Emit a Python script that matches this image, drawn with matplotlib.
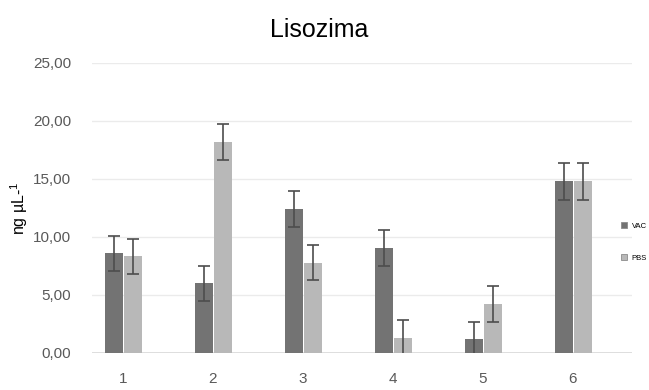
import matplotlib
matplotlib.use("Agg")
import matplotlib.pyplot as plt
import numpy as np

plt.rcParams['font.family'] = ['Liberation Sans', 'DejaVu Sans']
plt.rcParams['mathtext.fontset'] = 'custom'
plt.rcParams['mathtext.rm'] = 'Liberation Sans'
plt.rcParams['mathtext.default'] = 'rm'

categories = ["1", "2", "3", "4", "5", "6"]
vac = [8.6, 6.0, 12.4, 9.05, 1.2, 14.8]
vac_err = [1.5, 1.5, 1.55, 1.55, 1.5, 1.6]
pbs = [8.35, 18.2, 7.8, 1.3, 4.2, 14.8]
pbs_err = [1.5, 1.55, 1.5, 1.55, 1.55, 1.6]
yticks = [0, 5, 10, 15, 20, 25]
ytick_labels = ["0,00", "5,00", "10,00", "15,00", "20,00", "25,00"]

fig = plt.figure(figsize=(6.49, 3.90), dpi=100)
ax = fig.add_axes([0.1418, 0.0949, 0.832, 0.7436])

x = np.arange(1, len(categories) + 1)
w = 0.2
ax.bar(x - 0.105, vac, width=w, color="#737373", label="VAC", zorder=3,
       yerr=vac_err, capsize=4, error_kw=dict(ecolor="#4d4d4d", elinewidth=1.2, capthick=1.2))
ax.bar(x + 0.11, pbs, width=w, color="#b8b8b8", label="PBS", zorder=3,
       yerr=pbs_err, capsize=4, error_kw=dict(ecolor="#4d4d4d", elinewidth=1.2, capthick=1.2))

ax.set_xlim(0.656, 6.656)
ax.set_ylim(0, 25)
ax.set_yticks(yticks)
ax.set_yticklabels(ytick_labels)
ax.set_xticks(x)
ax.set_xticklabels(categories)
ax.grid(axis="y", color="#ebebeb", linewidth=1, zorder=0)
ax.axhline(0, color="#d9d9d9", linewidth=1.2, zorder=2)
for s in ax.spines.values():
    s.set_visible(False)
ax.tick_params(axis="both", length=0, labelsize=11, labelcolor="#595959")
ax.tick_params(axis="y", pad=15)
ax.tick_params(axis="x", pad=14)

ax.set_ylabel(r"ng µL-$^{1}$", fontsize=11.5, labelpad=2)
fig.text(0.492, 0.922, "Lisozima", ha="center", va="center", fontsize=18)

leg = fig.legend(loc="center left", bbox_to_anchor=(0.946, 0.38), frameon=False,
                 fontsize=5.5, handlelength=0.8, handleheight=0.8, labelspacing=3.2,
                 handletextpad=0.6)
for h in leg.legend_handles:
    h.set_edgecolor("#8c8c8c")
    h.set_linewidth(0.6)

fig.savefig("out.png", dpi=100)
